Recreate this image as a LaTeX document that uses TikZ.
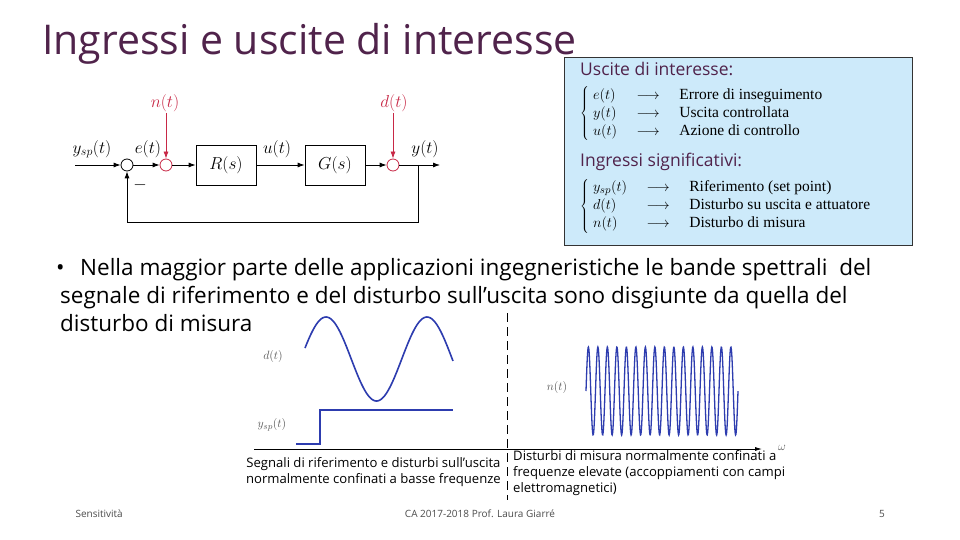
\documentclass[tikz,border=0pt]{standalone}
\usepackage{fontspec}
\setmainfont{Open Sans}
\newfontfamily\tms{Liberation Serif}
\usetikzlibrary{arrows.meta}
\definecolor{ttl}{RGB}{80,35,75}
\definecolor{boxfill}{RGB}{205,234,250}
\definecolor{sig}{RGB}{45,60,175}
\definecolor{rd}{RGB}{200,40,70}
\tikzset{
  blk/.style={draw,thick,minimum width=60pt,minimum height=40pt,font=\normalfont\fontsize{17}{18}\selectfont},
  sumw/.style={circle,draw,thick,inner sep=0pt,minimum size=12pt},
  sumr/.style={circle,draw=rd,thick,inner sep=0pt,minimum size=12pt},
  lab/.style={font=\fontsize{17}{18}\selectfont},
  sarr/.style={thick,-{Latex[length=7pt,width=5pt]}},
  body/.style={font=\fontsize{22.5}{26}\selectfont,anchor=base west,inner sep=0pt},
  small/.style={font=\fontsize{13.1}{16}\selectfont,inner sep=0pt,align=center},
  mathlab/.style={font=\fontsize{13}{14}\selectfont,text=gray!70!black},
  boxt/.style={font=\fontsize{17.5}{20}\selectfont,text=ttl,anchor=base west,inner sep=0pt},
}
\newcommand{\tx}[1]{\mbox{\tms #1}}
\begin{document}
\begin{tikzpicture}[x=1pt,y=-1pt]
\useasboundingbox[fill=white] (0,0) rectangle (960,540);
% title
\node[anchor=base west,inner sep=0pt,text=ttl,font=\fontsize{41}{46}\selectfont] (title) at (42,55) {Ingressi e uscite di interesse};
% block diagram
\coordinate (in) at (75,165);
\node[sumw] (s1) at (127,165) {};
\node[sumr] (s2) at (166,165) {};
\node[blk] (R) at (226,165) {$R(s)$};
\node[blk] (G) at (335,165) {$G(s)$};
\node[sumr] (s3) at (393,165) {};
\coordinate (out) at (440,165);
\coordinate (br) at (418,165);
\coordinate (fb1) at (418,222);
\coordinate (fb2) at (127,222);
\coordinate (ntop) at (166,113);
\coordinate (dtop) at (393,113);
\draw[sarr] (in) -- (s1);
\draw[sarr] (s1) -- (s2);
\draw[sarr] (s2) -- (R);
\draw[sarr] (R) -- (G);
\draw[sarr] (G) -- (s3);
\draw[sarr] (s3) -- (out);
\draw[sarr] (br) -- (fb1) -- (fb2) -- (s1);
\draw[sarr,rd] (ntop) -- (s2);
\draw[sarr,rd] (dtop) -- (s3);
\node[lab] (lysp) at (92,149) {$y_{sp}(t)$};
\node[lab] (le) at (148,149) {$e(t)$};
\node[lab] (lu) at (277,149) {$u(t)$};
\node[lab] (ly) at (425,149) {$y(t)$};
\node[lab] (lminus) at (140,185) {$-$};
\node[lab,text=rd] (ln) at (165,103) {$n(t)$};
\node[lab,text=rd] (ld) at (394,103) {$d(t)$};
% right box
\node[draw=black!80,thick,fill=boxfill,minimum width=348pt,minimum height=188pt,anchor=north west,inner sep=0pt] (box) at (564,57) {};
\node[boxt] (u1) at (580,76) {Uscite di interesse:};
\node[boxt] (u2) at (580,167) {Ingressi significativi:};
\node[anchor=west,inner sep=0pt,font=\fontsize{15.5}{18}\selectfont] (m1) at (580,114) {\renewcommand{\arraystretch}{1.0}$\left\{\;\begin{array}{@{}l@{\quad\;}c@{\quad\;}l@{}}
e(t) & \longrightarrow & \tx{Errore di inseguimento}\\
y(t) & \longrightarrow & \tx{Uscita controllata}\\
u(t) & \longrightarrow & \tx{Azione di controllo}
\end{array}\right.$};
\node[anchor=west,inner sep=0pt,font=\fontsize{15.5}{18}\selectfont] (m2) at (580,206) {\renewcommand{\arraystretch}{1.0}$\left\{\;\begin{array}{@{}l@{\quad\;}c@{\quad\;}l@{}}
y_{sp}(t) & \longrightarrow & \tx{Riferimento (set point)}\\
d(t) & \longrightarrow & \tx{Disturbo su uscita e attuatore}\\
n(t) & \longrightarrow & \tx{Disturbo di misura}
\end{array}\right.$};
% bullet text
\node[body] (bul) at (56,275) {•};
\node[body] (t1) at (80,275) {Nella maggior parte delle applicazioni ingegneristiche le bande spettrali\ \ del};
\node[body] (t2) at (60,303) {segnale di riferimento e del disturbo sull'uscita sono disgiunte da quella del};
\node[body] (t3) at (60,331) {disturbo di misura};
% plot
\draw[thick,-{Latex[length=7pt,width=4pt]}] (254,449) -- (762,449);
\node[mathlab] (om) at (782,448) {$\omega$};
\draw[thick,dashed,dash pattern=on 9pt off 5pt] (507,313) -- (507,500);
\draw[sig,line width=1.6pt,domain=305:453,samples=120] plot (\x,{359-42*cos((\x-326)*3.5644)});
\draw[sig,line width=1.6pt] (296,444) -- (320,444) -- (320,410) -- (453,410);
\draw[sig,line width=1.3pt,domain=586:738,samples=500] plot (\x,{391-44*sin((\x-586)*37.895)});
\node[mathlab] (ldt) at (273,356) {$d(t)$};
\node[mathlab] (lyspt) at (272,425) {$y_{sp}(t)$};
\node[mathlab] (lnt) at (557,387) {$n(t)$};
\node[small,anchor=north east] (c1) at (501,457) {Segnali di riferimento e disturbi sull'uscita\\normalmente confinati a basse frequenze};
\node[small,anchor=north west,align=left] (c2) at (513,450) {Disturbi di misura normalmente confinati a\\frequenze elevate (accoppiamenti con campi\\elettromagnetici)};
% footer
\node[font=\fontsize{10}{12}\selectfont,text=black!70,anchor=west] (f1) at (72,514) {Sensitività};
\node[font=\fontsize{10}{12}\selectfont,text=black!70] (f2) at (480,514) {CA 2017-2018 Prof. Laura Giarré};
\node[font=\fontsize{10}{12}\selectfont,text=black!70] (f3) at (882,514) {5};
\end{tikzpicture}
\end{document}
